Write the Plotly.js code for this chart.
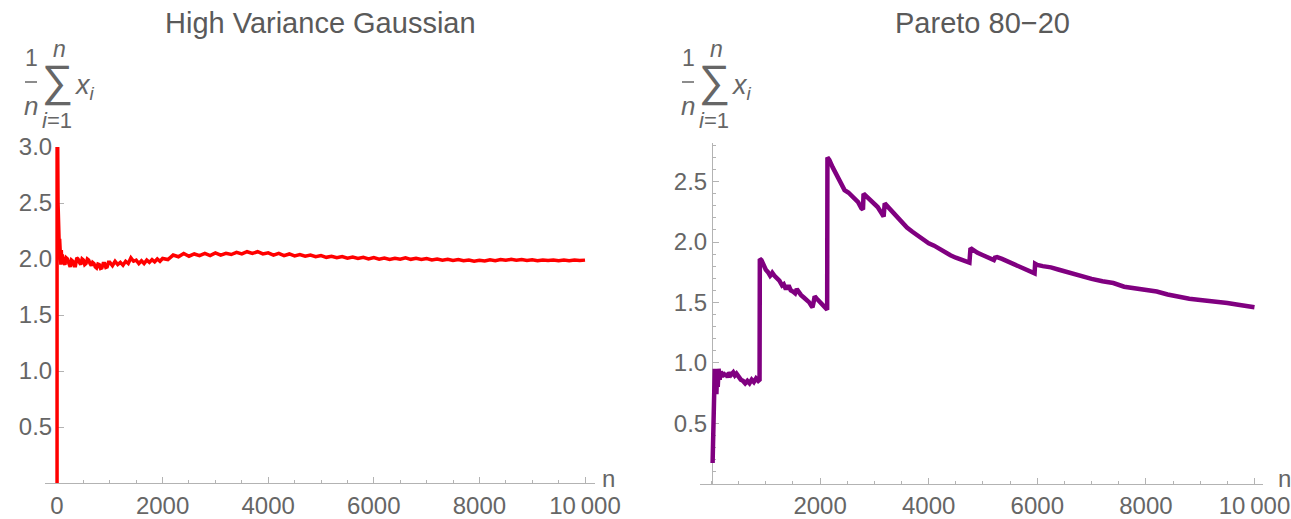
<!DOCTYPE html>
<html>
<head>
<meta charset="utf-8">
<script src="https://cdn.plot.ly/plotly-3.0.1.min.js"></script>
<style>html,body{margin:0;padding:0;background:#fff;}#chart{width:1291px;height:519px;}</style>
</head>
<body>
<div id="chart"></div>
<script>
// ---------- DATA ----------
const titleLeft = "High Variance Gaussian";
const titleRight = "Pareto 80\u221220";
const xAxisLabel = "n";

// Running mean, high-variance Gaussian
const gaussN = [1,2,3,4,5,6,7,8,10,12,14,17,20,24,28,33,38,44,50,57,65,73,82,91,
100,125,150,175,200,225,250,275,300,325,350,375,400,425,450,475,500,525,550,575,600,625,650,675,700,725,750,775,800,825,850,875,900,925,950,975,1000,
1050,1100,1150,1200,1250,1300,1350,1400,1450,1500,1550,1600,1650,1700,1750,1800,1850,1900,1950,2000,
2100,2200,2300,2400,2500,2600,2700,2800,2900,3000,3100,3200,3300,3400,3500,3600,3700,3800,3900,4000,
4100,4200,4300,4400,4500,4600,4700,4800,4900,5000,5100,5200,5300,5400,5500,5600,5700,5800,5900,6000,
6100,6200,6300,6400,6500,6600,6700,6800,6900,7000,7100,7200,7300,7400,7500,7600,7700,7800,7900,8000,
8100,8200,8300,8400,8500,8600,8700,8800,8900,9000,9100,9200,9300,9400,9500,9600,9700,9800,9900,10000];
const gaussMean = [-1.8,3.9,1.1,3.4,1.6,3.2,2.1,3.05,2.4,2.9,2.2,2.75,2.5,2.3,2.45,2.15,2.3,2.1,2.18,2.02,2.12,1.95,2.08,1.96,
2.04,1.97,1.95,2.01,2.0,1.96,1.93,1.99,1.98,1.94,1.94,2.01,2.0,1.97,1.95,2.0,1.99,1.95,1.96,2.0,1.99,1.96,1.94,1.97,1.96,1.93,1.92,1.955,1.95,1.915,1.92,1.96,1.96,1.925,1.93,1.97,1.97,
1.94,1.98,1.95,1.97,1.945,1.98,1.96,2.01,1.98,1.99,1.96,1.985,1.96,1.99,1.97,1.995,1.975,2.0,1.98,2.005,
1.995,2.035,2.02,2.05,2.025,2.045,2.03,2.05,2.03,2.055,2.035,2.05,2.04,2.06,2.045,2.065,2.05,2.065,2.045,2.055,
2.035,2.05,2.03,2.045,2.028,2.04,2.025,2.035,2.02,2.03,2.015,2.025,2.012,2.022,2.008,2.018,2.005,2.015,2.0,2.012,
1.998,2.008,1.996,2.006,1.998,2.01,1.997,2.006,1.995,2.004,1.992,2.0,1.99,1.998,1.987,1.995,1.984,1.99,1.98,1.988,
1.982,1.993,1.985,1.996,1.988,1.997,1.989,1.995,1.986,1.993,1.985,1.992,1.986,1.991,1.984,1.99,1.985,1.991,1.986,1.99];

// Running mean, Pareto 80-20
const paretoN = [20,30,40,50,60,70,80,90,100,115,130,150,170,190,210,240,270,300,330,360,400,430,460,500,540,580,620,660,700,740,780,820,860,885,
890,920,960,1000,1040,1080,1100,1120,1160,1200,1250,1300,1330,1360,1400,1420,1460,1500,1540,1570,1600,1650,1700,1750,1800,1840,1860,1880,1900,1940,1980,2030,2080,2130,
2135,2170,2230,2300,2380,2450,2520,2580,2650,2700,2760,2790,2800,2850,2920,2990,3060,3130,3170,3190,3250,3330,3420,3500,3600,3700,3800,3900,4000,4100,4200,4300,4400,4500,4600,4700,4750,
4770,4800,4900,5000,5100,5200,5220,5260,5350,5450,5550,5650,5750,5850,5950,5960,6000,6100,6250,6400,6550,6700,6850,7000,7200,7400,7600,7800,8000,8200,8400,8600,8800,9000,9100,9150,9300,9500,9700,9900,10000];
const paretoMean = [0.17,0.45,0.62,0.78,0.95,0.80,0.92,0.74,0.88,0.80,0.95,0.86,0.93,0.88,0.92,0.89,0.91,0.88,0.92,0.90,0.92,0.895,0.91,0.88,0.86,0.85,0.83,0.85,0.83,0.86,0.84,0.87,0.85,0.86,
1.86,1.85,1.80,1.77,1.75,1.72,1.73,1.745,1.72,1.70,1.68,1.64,1.65,1.62,1.62,1.64,1.60,1.59,1.575,1.61,1.59,1.56,1.54,1.52,1.50,1.47,1.46,1.50,1.55,1.53,1.51,1.49,1.47,1.44,
2.70,2.68,2.62,2.56,2.49,2.43,2.41,2.38,2.35,2.33,2.28,2.27,2.40,2.38,2.35,2.32,2.29,2.24,2.21,2.32,2.29,2.25,2.21,2.17,2.12,2.085,2.05,2.02,1.99,1.97,1.94,1.915,1.89,1.87,1.85,1.84,1.83,
1.95,1.94,1.91,1.89,1.87,1.85,1.87,1.875,1.86,1.84,1.82,1.80,1.78,1.76,1.74,1.82,1.81,1.80,1.79,1.77,1.75,1.73,1.71,1.695,1.675,1.66,1.63,1.615,1.605,1.59,1.565,1.545,1.53,1.52,1.515,1.52,1.51,1.495,1.48,1.465,1.46];

// Tick labels
const xTickValsLeft = [0,2000,4000,6000,8000,10000];
const xTickTextLeft = ["0","2000","4000","6000","8000","10\u2009000"];
const xTickValsRight = [2000,4000,6000,8000,10000];
const xTickTextRight = ["2000","4000","6000","8000","10\u2009000"];
const yTickValsLeft = [0.5,1.0,1.5,2.0,2.5,3.0];
const yTickTextLeft = ["0.5","1.0","1.5","2.0","2.5","3.0"];
const yTickValsRight = [0.5,1.0,1.5,2.0,2.5];
const yTickTextRight = ["0.5","1.0","1.5","2.0","2.5"];

// ---------- LAYOUT ----------
const W = 1291, H = 519;
const fx = p => p / W;
const fy = p => 1 - p / H;
const FONT = "Liberation Sans, Arial, Helvetica, sans-serif";
const AX = "#b3b3b3";
const TXT = "#666666";
const TICKSIZE = 24;

function xAxis(dom, rng, anchor, tv, tt) {
  return {domain: dom, range: rng, anchor: anchor, showgrid: false, zeroline: false,
    showline: true, linecolor: AX, linewidth: 1, ticks: "inside", ticklen: 6, tickwidth: 1, tickcolor: AX,
    tickmode: "array", tickvals: tv, ticktext: tt, ticklabelstandoff: 1,
    tickfont: {family: FONT, size: TICKSIZE, color: TXT}, layer: "below traces", fixedrange: true,
    minor: {tickmode: "linear", tick0: 0, dtick: 500, ticks: "inside", ticklen: 3, tickcolor: AX, tickwidth: 1, showgrid: false}};
}
function yAxis(dom, rng, pos, tv, tt, minor) {
  const a = {domain: dom, range: rng, anchor: "free", position: pos, showgrid: false, zeroline: false,
    showline: true, linecolor: AX, linewidth: 1, ticks: "inside", ticklen: 6, tickwidth: 1, tickcolor: AX,
    tickmode: "array", tickvals: tv, ticktext: tt, ticklabelstandoff: 0,
    tickfont: {family: FONT, size: TICKSIZE, color: TXT}, layer: "below traces", fixedrange: true};
  if (minor) a.minor = {tickmode: "linear", tick0: 0, dtick: 0.1, ticks: "inside", ticklen: 3, tickcolor: AX, tickwidth: 1, showgrid: false};
  return a;
}

const traces = [
  {x: gaussN, y: gaussMean, xaxis: "x", yaxis: "y", type: "scatter", mode: "lines",
   line: {color: "#ff0000", width: 3.5}, hoverinfo: "skip"},
  {x: paretoN, y: paretoMean, xaxis: "x2", yaxis: "y2", type: "scatter", mode: "lines",
   line: {color: "#800080", width: 4.5}, hoverinfo: "skip"}
];

function mathLabel(dx) {
  const a = [];
  const t = (text, x, y, size, xa) => a.push({text: text, x: fx(x + dx), y: fy(y), xref: "paper", yref: "paper",
    xanchor: xa || "center", yanchor: "middle", showarrow: false, font: {family: FONT, size: size, color: TXT}});
  t("1", 31, 58, 23);
  t("<i>n</i>", 31, 106, 26);
  t("\u2211", 57, 81, 44);
  t("<i>n</i>", 59, 49, 23);
  t("<i>i</i>=1", 57, 120, 22);
  t("<i>x</i><sub><i>i</i></sub>", 72, 87, 27, "left");
  return a;
}

const annotations = [
  {text: titleLeft, x: fx(320), y: fy(23), xref: "paper", yref: "paper", xanchor: "center", yanchor: "middle",
   showarrow: false, font: {family: FONT, size: 29, color: "#5a5a5a"}},
  {text: titleRight, x: fx(982), y: fy(23), xref: "paper", yref: "paper", xanchor: "center", yanchor: "middle",
   showarrow: false, font: {family: FONT, size: 29, color: "#5a5a5a"}},
  {text: xAxisLabel, x: fx(600), y: fy(478), xref: "paper", yref: "paper", xanchor: "left", yanchor: "middle",
   showarrow: false, font: {family: FONT, size: TICKSIZE, color: TXT}},
  {text: xAxisLabel, x: fx(1276), y: fy(478), xref: "paper", yref: "paper", xanchor: "left", yanchor: "middle",
   showarrow: false, font: {family: FONT, size: TICKSIZE, color: TXT}}
].concat(mathLabel(0), mathLabel(657));

const shapes = [0, 657].map(dx => ({type: "line", xref: "paper", yref: "paper",
  x0: fx(25 + dx), x1: fx(37 + dx), y0: fy(82), y1: fy(82), line: {color: TXT, width: 1.5}}));

const layout = {
  width: W, height: H, margin: {l: 0, r: 0, t: 0, b: 0},
  paper_bgcolor: "#ffffff", plot_bgcolor: "rgba(0,0,0,0)", showlegend: false,
  xaxis: xAxis([fx(45), fx(595)], [-227, 10189], "y", xTickValsLeft, xTickTextLeft),
  yaxis: yAxis([1 - 483 / H, 1 - 147 / H], [0, 3.0], fx(57), yTickValsLeft, yTickTextLeft, false),
  xaxis2: xAxis([fx(700), fx(1263)], [-212, 10157], "y2", xTickValsRight, xTickTextRight),
  yaxis2: yAxis([1 - 483.5 / H, 1 - 143 / H], [0, 2.82], fx(712), yTickValsRight, yTickTextRight, true),
  annotations: annotations, shapes: shapes
};

Plotly.newPlot("chart", traces, layout, {displayModeBar: false, staticPlot: true});
</script>
</body>
</html>
